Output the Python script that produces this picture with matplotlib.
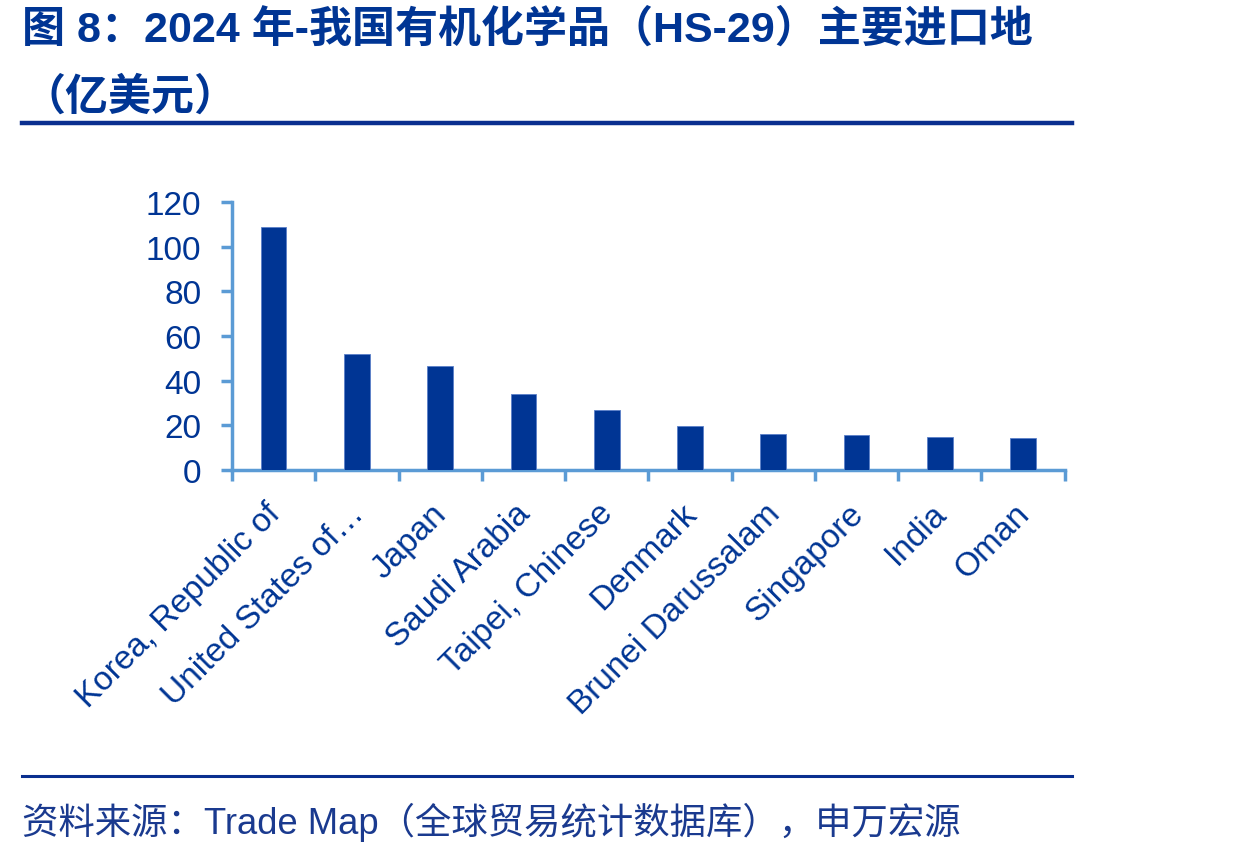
import matplotlib.pyplot as plt
from matplotlib.lines import Line2D
from matplotlib.transforms import ScaledTranslation

plt.rcParams['font.family'] = ['Liberation Sans', 'Noto Sans CJK SC', 'DejaVu Sans']

countries = ['Korea, Republic of', 'United States of…', 'Japan', 'Saudi Arabia',
             'Taipei, Chinese', 'Denmark', 'Brunei Darussalam', 'Singapore',
             'India', 'Oman']
values = [108.8, 51.9, 46.6, 34.0, 26.9, 19.9, 16.0, 15.7, 14.8, 14.2]
yticks = [0, 20, 40, 60, 80, 100, 120]

dark = '#003594'
axis_col = '#5B9BD5'
cjk = ['Liberation Sans', 'Noto Sans CJK SC', 'DejaVu Sans']

fig = plt.figure(figsize=(12.43, 8.54), dpi=100)
ax = fig.add_axes([0.1866, 0.4485, 0.670, 0.3138])

x = list(range(len(countries)))
ax.bar(x, values, width=0.31, color='#003594', edgecolor='#5B7FC8', linewidth=0.6, zorder=3)

ax.set_xlim(-0.5, len(countries) - 0.5)
ax.set_ylim(0, 120)
ax.set_yticks(yticks)
ax.set_yticklabels([str(v) for v in yticks], fontsize=24, color=dark)

# category labels under the bars, ticks at the boundaries
ax.set_xticks(x)
ax.set_xticklabels(countries, rotation=45, ha='right', rotation_mode='anchor',
                   fontsize=24, color=dark)
ax.tick_params(axis='x', which='major', length=0, pad=14)
shift = ScaledTranslation(-9 / 100, -8 / 100, fig.dpi_scale_trans)
for lab in ax.get_xticklabels():
    lab.set_transform(lab.get_transform() + shift)
ax.set_xticks([i - 0.5 for i in range(len(countries) + 1)], minor=True)
ax.tick_params(axis='x', which='minor', length=8, width=2.5, color=axis_col, direction='out')
ax.tick_params(axis='y', length=8, width=2.5, color=axis_col, pad=14)

for s in ['top', 'right']:
    ax.spines[s].set_visible(False)
for s in ['left', 'bottom']:
    ax.spines[s].set_color(axis_col)
    ax.spines[s].set_linewidth(2.5)

# title
fig.text(22 / 1243, 1 - 30 / 854, '图 8：2024 年-我国有机化学品（HS-29）主要进口地',
         fontsize=31, fontweight='bold', color=dark, va='center', ha='left', family=cjk)
fig.text(22 / 1243, 1 - 98 / 854, '（亿美元）',
         fontsize=31, fontweight='bold', color=dark, va='center', ha='left', family=cjk)

fig.add_artist(Line2D([22 / 1243, 1072 / 1243], [1 - 124 / 854] * 2,
                      color='#0A2F8F', linewidth=3.2, transform=fig.transFigure))
fig.add_artist(Line2D([22 / 1243, 1072 / 1243], [1 - 777 / 854] * 2,
                      color='#0A2F8F', linewidth=2.2, transform=fig.transFigure))

fig.text(22 / 1243, 1 - 822 / 854, '资料来源：Trade Map（全球贸易统计数据库），申万宏源',
         fontsize=26.2, color='#1A3A8F', va='center', ha='left', family=cjk)

fig.savefig('out.png', dpi=100)
